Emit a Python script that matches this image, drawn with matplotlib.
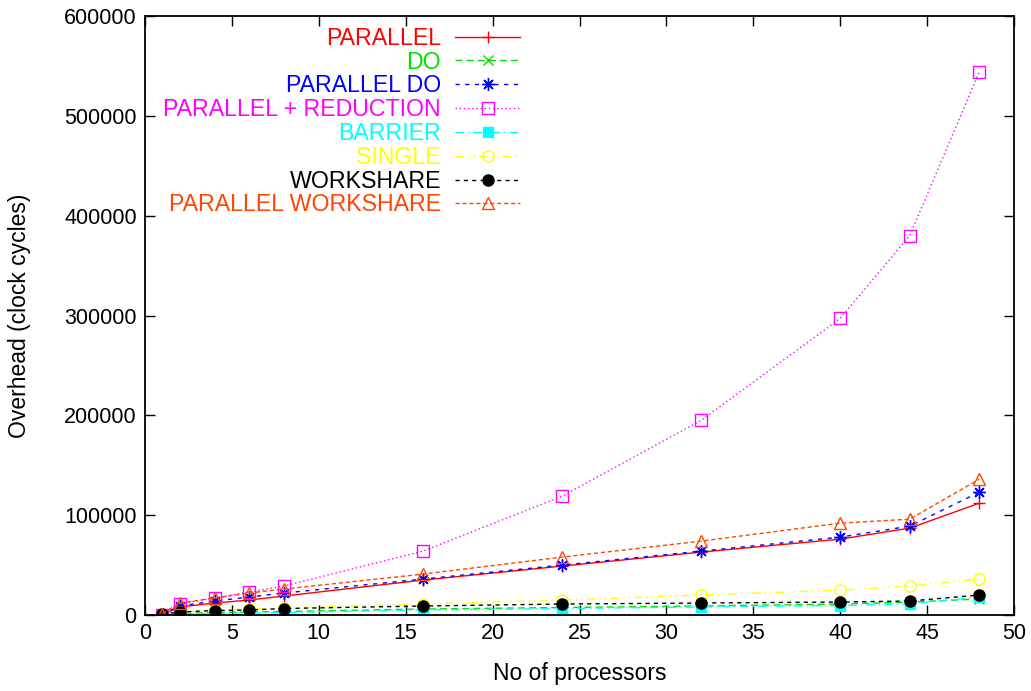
import numpy as np
import matplotlib.pyplot as plt

plt.rcParams['font.family'] = ['Liberation Sans', 'DejaVu Sans']

# processor counts and measured overheads (clock cycles)
procs = [1, 2, 4, 6, 8, 16, 24, 32, 40, 44, 48]

parallel = [500, 8000, 12000, 15000, 19000, 35000, 49000, 63000, 76000, 87000, 112000]
do_loop = [0, 1500, 2500, 3000, 3500, 6000, 7500, 9000, 11000, 13000, 16000]
parallel_do = [500, 9000, 14000, 18000, 22000, 36000, 50000, 64000, 78000, 89000, 123000]
reduction = [500, 11000, 17000, 23000, 29000, 64000, 119000, 195000, 297000, 380000, 544000]
barrier = [0, 1000, 1500, 2000, 2500, 5000, 6500, 8000, 9500, 11000, 18000]
single = [0, 3000, 5000, 6000, 7000, 11000, 15000, 20000, 25000, 29000, 36000]
workshare = [1000, 3000, 4500, 5000, 6500, 9000, 11000, 12000, 13000, 14000, 20000]
par_workshare = [1500, 12000, 17000, 22000, 26000, 41000, 58000, 74000, 92000, 96000, 136000]

series = [
    ('PARALLEL', parallel, '#ff0000', '-', dict(marker='+', ms=9, mfc='none')),
    ('DO', do_loop, '#00e000', (0, (5, 3)), dict(marker='x', ms=7, mfc='none')),
    ('PARALLEL DO', parallel_do, '#0000ff', (0, (3, 4)), dict(marker=(8, 2, 0), ms=9, mfc='none')),
    ('PARALLEL + REDUCTION', reduction, '#ff00ff', (0, (1, 2)), dict(marker='s', ms=8, mfc='none')),
    ('BARRIER', barrier, '#00ffff', (0, (6, 3, 1, 3)), dict(marker='s', ms=7, mfc='#00ffff')),
    ('SINGLE', single, '#ffff00', (0, (6, 3, 1, 3, 1, 3)), dict(marker='o', ms=8, mfc='none')),
    ('WORKSHARE', workshare, '#000000', (0, (3, 3)), dict(marker='o', ms=8, mfc='#000000')),
    ('PARALLEL WORKSHARE', par_workshare, '#ff4500', (0, (3, 2)), dict(marker='^', ms=8, mfc='none')),
]

fig = plt.figure(figsize=(10.31, 6.91), dpi=100)
ax = fig.add_axes([145 / 1031, 76 / 691, 869 / 1031, 599 / 691])

for label, vals, color, ls, mk in series:
    ax.plot(procs, vals, color=color, linestyle=ls, linewidth=1.0,
            mec=color, mew=1.0, label=label, **mk)

ax.set_xlim(0, 50)
ax.set_ylim(0, 600000)
ax.set_xticks(np.arange(0, 51, 5))
ax.set_yticks(np.arange(0, 600001, 100000))
ax.tick_params(direction='in', top=True, right=True, length=7, width=1.0,
               labelsize=15.5, pad=6)
for s in ax.spines.values():
    s.set_linewidth(1.3)

ax.set_xlabel('No of processors', fontsize=16.5, labelpad=13)
ax.set_ylabel('Overhead (clock cycles)', fontsize=16.5, labelpad=24)

leg = ax.legend(loc='upper right', bbox_to_anchor=(0.4315, 0.982),
                frameon=False, markerfirst=False, fontsize=16.7,
                handlelength=2.8, handletextpad=0.6, labelspacing=0.035,
                borderpad=0, borderaxespad=0)
for text, line in zip(leg.get_texts(), leg.get_lines()):
    text.set_color(line.get_color())

plt.savefig('out.png', dpi=100)
